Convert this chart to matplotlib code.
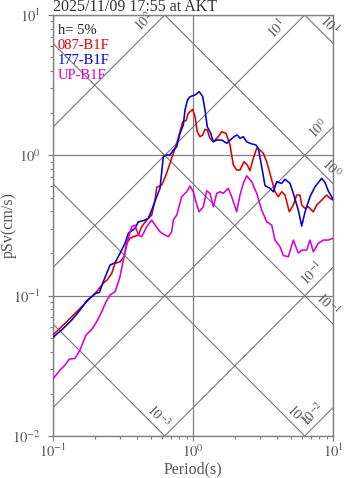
import numpy as np
import matplotlib
matplotlib.use('Agg')
import matplotlib.pyplot as plt
from matplotlib.ticker import LogLocator, FuncFormatter, NullFormatter

plt.rcParams['font.family'] = ['Liberation Serif', 'DejaVu Serif']
plt.rcParams['mathtext.fontset'] = 'stix'

# ---------------- data ----------------
title_text = '2025/11/09 17:55 at AKT'
damping_text = 'h= 5%'
series_names = ['087-B1F', '177-B1F', 'UP-B1F']
series_colors = ['#dd0000', '#0000d8', '#d800d8']

red_T = [0.100, 0.1185, 0.136, 0.156, 0.1787, 0.205, 0.2287, 0.243,
         0.2627, 0.2773, 0.301, 0.3216, 0.336, 0.3548, 0.3746, 0.4067,
         0.430, 0.467, 0.507, 0.5355, 0.5506, 0.5976, 0.6415, 0.685,
         0.7234, 0.765, 0.8075, 0.8443, 0.8913, 0.9256, 0.995, 1.0335,
         1.073, 1.122, 1.173, 1.218, 1.265, 1.322, 1.396, 1.516,
         1.603, 1.721, 1.838, 1.941, 2.051, 2.166, 2.314, 2.443,
         2.553, 2.696, 2.851, 3.010, 3.178, 3.361, 3.649, 3.852,
         4.067, 4.301, 4.541, 4.875, 5.205, 5.506, 5.812, 5.976,
         6.310, 6.662, 7.233, 7.649, 8.306, 9.016, 9.519, 10.0]
red_sv = [0.0526, 0.0617, 0.0707, 0.0812, 0.0930, 0.1066, 0.123, 0.129,
          0.144, 0.170, 0.1744, 0.1894, 0.236, 0.256, 0.263, 0.2704,
          0.310, 0.346, 0.3753, 0.480, 0.591, 0.614, 0.724, 0.877,
          1.033, 1.218, 1.473, 1.736, 1.765, 1.993, 2.128, 1.884,
          1.473, 1.357, 1.395, 1.532, 1.514, 1.322, 1.250, 1.357,
          1.473, 1.435, 1.184, 0.853, 0.786, 0.786, 0.900, 0.853,
          0.777, 0.952, 1.122, 1.091, 1.033, 0.900, 0.667, 0.550,
          0.507, 0.550, 0.521, 0.396, 0.442, 0.521, 0.521, 0.442,
          0.419, 0.430, 0.396, 0.442, 0.480, 0.521, 0.494, 0.480]

blue_T = [0.100, 0.1185, 0.136, 0.156, 0.1758, 0.205, 0.2141, 0.2287,
          0.2554, 0.2773, 0.301, 0.3269, 0.3451, 0.3648, 0.3852, 0.4067,
          0.4416, 0.4794, 0.507, 0.5506, 0.5812, 0.6137, 0.6488, 0.685,
          0.7234, 0.765, 0.8075, 0.8526, 0.8768, 0.9135, 0.9519, 1.0335,
          1.109, 1.173, 1.218, 1.265, 1.338, 1.396, 1.477, 1.603,
          1.741, 1.838, 1.995, 2.072, 2.166, 2.287, 2.418, 2.553,
          2.818, 2.927, 3.095, 3.268, 3.548, 3.746, 3.962, 4.301,
          4.541, 4.931, 5.205, 5.651, 5.976, 6.310, 6.850, 7.435,
          8.306, 8.770, 9.256, 10.0]
blue_sv = [0.0504, 0.0585, 0.0670, 0.0789, 0.0930, 0.1049, 0.1049, 0.1257,
           0.1652, 0.1716, 0.2002, 0.236, 0.278, 0.290, 0.302, 0.336,
           0.342, 0.356, 0.407, 0.507, 0.582, 0.977, 1.005, 1.005,
           1.091, 1.152, 1.435, 1.644, 2.103, 2.479, 2.617, 2.691,
           2.841, 2.617, 2.103, 1.599, 1.435, 1.250, 1.285, 1.285,
           1.218, 1.285, 1.373, 1.395, 1.322, 1.357, 1.250, 1.218,
           1.184, 1.122, 0.829, 0.609, 0.582, 0.550, 0.648, 0.631,
           0.675, 0.631, 0.536, 0.407, 0.3133, 0.3944, 0.507, 0.597,
           0.686, 0.640, 0.557, 0.488]

mag_T = [0.100, 0.1122, 0.1218, 0.1307, 0.1436, 0.156, 0.172, 0.189,
         0.205, 0.2228, 0.2391, 0.2554, 0.2773, 0.2927, 0.301, 0.3178,
         0.332, 0.3451, 0.3648, 0.3852, 0.4067, 0.430, 0.467, 0.507,
         0.5355, 0.5812, 0.631, 0.6662, 0.7046, 0.7234, 0.765, 0.8306,
         0.9016, 0.9519, 1.005, 1.050, 1.104, 1.185, 1.253, 1.322,
         1.396, 1.477, 1.559, 1.646, 1.787, 1.890, 2.051, 2.166,
         2.287, 2.418, 2.627, 2.851, 3.095, 3.361, 3.649, 3.852,
         4.181, 4.416, 4.794, 5.205, 5.651, 5.976, 6.488, 6.850,
         7.233, 7.852, 8.526, 9.256, 10.0]
mag_sv = [0.02557, 0.02949, 0.0320, 0.0353, 0.0357, 0.0410, 0.0524, 0.0575,
          0.0652, 0.0768, 0.0905, 0.101, 0.1066, 0.125, 0.1364, 0.1794,
          0.2174, 0.256, 0.310, 0.3185, 0.2704, 0.263, 0.310, 0.346,
          0.3185, 0.2854, 0.2704, 0.263, 0.2854, 0.346, 0.3753, 0.507,
          0.550, 0.604, 0.550, 0.467, 0.396, 0.430, 0.5594, 0.536,
          0.430, 0.536, 0.550, 0.536, 0.582, 0.507, 0.396, 0.521,
          0.631, 0.715, 0.648, 0.536, 0.407, 0.336, 0.3185, 0.249,
          0.2231, 0.1931, 0.1894, 0.249, 0.2012, 0.2113, 0.2113, 0.249,
          0.2056, 0.236, 0.249, 0.249, 0.256]

# tripartite grid: acceleration (cm/s^2) and displacement (cm) levels
accel_levels = [1e-2, 1e-1, 1e0, 1e1, 1e2]
accel_labels = [r'$10^{-2}$', r'$10^{-1}$', r'$10^{0}$', r'$10^{1}$', r'$10^{2}$']
disp_levels = [1e-3, 1e-2, 1e-1, 1e0, 1e1]
disp_labels = [r'$10^{-3}$', r'$10^{-3}$', r'$10^{-1}$', r'$10^{0}$', r'$10^{1}$']

x_lim = (0.1, 10.0)
y_lim = (0.01, 10.0)

# ---------------- figure ----------------
W, H = 347, 478
fig = plt.figure(figsize=(W / 100, H / 100), dpi=100)
ax_l, ax_r, ax_t, ax_b = 53, 333, 15, 436
ax = fig.add_axes([ax_l / W, 1 - ax_b / H, (ax_r - ax_l) / W, (ax_b - ax_t) / H])
ax.set_xscale('log')
ax.set_yscale('log')
ax.set_xlim(*x_lim)
ax.set_ylim(*y_lim)

gray = '#808080'
ax.grid(True, which='major', color=gray, lw=0.9)
ax.set_axisbelow(True)

Tline = np.array(x_lim)
two_pi = 2 * np.pi
for A in accel_levels:
    ax.plot(Tline, A * Tline / two_pi, color='#777777', lw=0.8, zorder=1)
for D in disp_levels:
    ax.plot(Tline, two_pi * D / Tline, color='#777777', lw=0.8, zorder=1)

lab_fs = 10
lab_col = '#5a5a5a'
accel_gaps = [4, 4, 1, 14, 6]
for A, lab, g in zip(accel_levels, accel_labels, accel_gaps):
    T_top = 10.0 * two_pi / A
    if T_top <= x_lim[1]:
        xe, ye = T_top, y_lim[1]
    else:
        xe, ye = x_lim[1], A * x_lim[1] / two_pi
    ax.annotate(lab, xy=(xe, ye), xytext=(-g - 1, -g + 1), textcoords='offset pixels',
                rotation=45, rotation_mode='anchor', ha='right', va='bottom',
                fontsize=lab_fs, color=lab_col)
disp_gaps = [3, 3, 3, 1, 4]
for D, lab, g in zip(disp_levels, disp_labels, disp_gaps):
    T_bot = two_pi * D / y_lim[0]
    if T_bot <= x_lim[1]:
        xe, ye = T_bot, y_lim[0]
    else:
        xe, ye = x_lim[1], two_pi * D / x_lim[1]
    ax.annotate(lab, xy=(xe, ye), xytext=(-g + 1, g + 1), textcoords='offset pixels',
                rotation=-45, rotation_mode='anchor', ha='right', va='bottom',
                fontsize=lab_fs, color=lab_col)

for T, sv, c in zip([red_T, blue_T, mag_T], [red_sv, blue_sv, mag_sv], series_colors):
    ax.plot(T, sv, color=c, lw=1.15, zorder=3)

# ticks
fmt = FuncFormatter(lambda v, p: r'$10^{%d}$' % int(round(np.log10(v))))
for axis in (ax.xaxis, ax.yaxis):
    axis.set_major_locator(LogLocator(base=10, numticks=10))
    axis.set_minor_locator(LogLocator(base=10, subs=np.arange(2, 10), numticks=10))
    axis.set_major_formatter(fmt)
    axis.set_minor_formatter(NullFormatter())
ax.tick_params(which='both', direction='out', color=gray, labelcolor='#555555',
               top=False, right=False)
ax.tick_params(which='major', length=3.6, width=0.9, labelsize=10.5)
ax.tick_params(which='minor', length=2.2, width=0.8)
ax.tick_params(axis='x', which='major', pad=1.5)
ax.tick_params(axis='y', which='major', pad=5)
for s in ax.spines.values():
    s.set_color(gray)
    s.set_linewidth(1.0)

ax.set_xlabel('Period(s)', fontsize=11.5, color='#555555', labelpad=1)
ax.set_ylabel('pSv(cm/s)', fontsize=11.5, color='#555555')
ax.yaxis.set_label_coords((17 - ax_l) / (ax_r - ax_l), 0.5)

fig.text(ax_l / W, 1 - 11 / H, title_text, ha='left', va='baseline',
         fontsize=11.5, color='#333333')

legend_x = 58
legend_y = [34, 49, 64, 79]
legend_txt = [damping_text] + series_names
legend_col = ['#222222'] + series_colors
for t, yb, c in zip(legend_txt, legend_y, legend_col):
    fig.text(legend_x / W, 1 - yb / H, t, ha='left', va='baseline',
             fontsize=10.5, color=c)

fig.savefig('out.png', dpi=100)
